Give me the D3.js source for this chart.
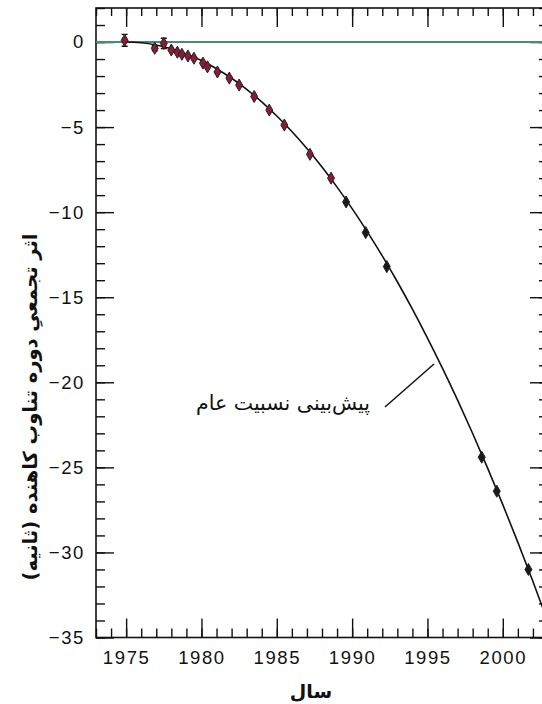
<!DOCTYPE html>
<html><head><meta charset="utf-8">
<script src="https://cdn.jsdelivr.net/npm/d3@7"></script>
<style>
html,body{margin:0;padding:0;background:#fff;}
svg{display:block;}
</style></head>
<body>
<script>
// ---- data ----
const obsYears  = [1974.9, 1976.9, 1977.5, 1978.0, 1978.4, 1978.7, 1979.1, 1979.5, 1980.1, 1980.4, 1981.06, 1981.85, 1982.5, 1983.5, 1984.5, 1985.5, 1987.2, 1988.6, 1989.6, 1990.9, 1992.3, 1998.6, 1999.6, 2001.7];
const obsValues = [0.1, -0.37, -0.08, -0.47, -0.6, -0.72, -0.82, -0.95, -1.24, -1.46, -1.76, -2.12, -2.53, -3.2, -4.0, -4.88, -6.6, -8.0, -9.4, -11.2, -13.2, -24.4, -26.4, -31.0];
const obsErrors = [0.35, 0.15, 0.3, 0.1, 0.1, 0.1, 0.1, 0.1, 0.1, 0.1, 0.1, 0.1, 0.1, 0.1, 0.1, 0.1, 0.1, 0.1, 0.1, 0.1, 0.1, 0.1, 0.1, 0.1];

const grYears  = [1974.8, 1975, 1976, 1977, 1978, 1979, 1980, 1981, 1982, 1983, 1984, 1985, 1986, 1987, 1988, 1989, 1990, 1991, 1992, 1993, 1994, 1995, 1996, 1997, 1998, 1999, 2000, 2001, 2002, 2003, 2004];
const grValues = [0.0, 0.0, -0.04, -0.17, -0.39, -0.70, -1.09, -1.57, -2.13, -2.78, -3.52, -4.35, -5.26, -6.26, -7.35, -8.53, -9.79, -11.14, -12.57, -14.09, -15.70, -17.40, -19.18, -21.05, -23.01, -25.06, -27.19, -29.41, -31.71, -34.10, -36.6];

const xMajorTicks = [1975, 1980, 1985, 1990, 1995, 2000];
const yMajorTicks = [0, -5, -10, -15, -20, -25, -30, -35];
const xDomain = [1973, 2003];
const yDomain = [2, -35];

const xTitle = "سال";
const yTitle = "اثر تجمعیِ دوره تناوب کاهنده (ثانیه)";
const annotationText = "پیش‌بینی نسبیت عام";

// ---- drawing ----
const W = 542, H = 704;
const L = 96, T = 8, R = 548, B = 637.5;
const svg = d3.select("body").append("svg").attr("width", W).attr("height", H);

const x = d3.scaleLinear().domain(xDomain).range([L, R]);
const y = d3.scaleLinear().domain(yDomain).range([T, B]);

const xMinor = d3.range(xDomain[0], xDomain[1] + 1, 1);
const yMinor = d3.range(-35, 3, 1);

const numFont = "'Liberation Sans', Arial, sans-serif";
const faFont = "'DejaVu Sans', sans-serif";

svg.append("clipPath").attr("id", "clip").append("rect")
  .attr("x", L).attr("y", T).attr("width", R - L).attr("height", B - T);

function styleAxis(g) {
  g.select(".domain").remove();
  g.selectAll(".tick line").attr("stroke", "#111").attr("stroke-width", 1.4);
  g.selectAll("text").attr("fill", "#111").attr("font-family", numFont)
    .attr("font-size", 18.5).attr("letter-spacing", "1.6px");
}

// minor ticks
svg.append("g").attr("transform", `translate(0,${B})`)
  .call(d3.axisBottom(x).tickValues(xMinor).tickSize(-9).tickFormat("")).call(styleAxis);
svg.append("g").attr("transform", `translate(0,${T})`)
  .call(d3.axisTop(x).tickValues(xMinor).tickSize(-8).tickFormat("")).call(styleAxis);
svg.append("g").attr("transform", `translate(${L},0)`)
  .call(d3.axisLeft(y).tickValues(yMinor).tickSize(-9).tickFormat("")).call(styleAxis);
svg.append("g").attr("transform", `translate(${R},0)`)
  .call(d3.axisRight(y).tickValues(yMinor).tickSize(-9).tickFormat("")).call(styleAxis);

// major ticks
svg.append("g").attr("transform", `translate(0,${B})`)
  .call(d3.axisBottom(x).tickValues(xMajorTicks).tickSize(-19).tickPadding(13).tickFormat(d3.format("d"))).call(styleAxis);
svg.append("g").attr("transform", `translate(0,${T})`)
  .call(d3.axisTop(x).tickValues(xMajorTicks).tickSize(-19).tickFormat("")).call(styleAxis);
svg.append("g").attr("transform", `translate(${L},0)`)
  .call(d3.axisLeft(y).tickValues(yMajorTicks).tickSize(-18).tickPadding(11)
    .tickFormat(d => d === 0 ? "0" : "\u2212" + Math.abs(d))).call(styleAxis);
svg.append("g").attr("transform", `translate(${R},0)`)
  .call(d3.axisRight(y).tickValues(yMajorTicks).tickSize(-18).tickFormat("")).call(styleAxis);

// frame
svg.append("rect").attr("x", L).attr("y", T).attr("width", R - L).attr("height", B - T)
  .attr("fill", "none").attr("stroke", "#111").attr("stroke-width", 1.6);

const plot = svg.append("g").attr("clip-path", "url(#clip)");

// zero line
plot.append("line").attr("x1", L).attr("x2", R).attr("y1", y(0)).attr("y2", y(0))
  .attr("stroke", "#4a8a78").attr("stroke-width", 2);

// GR curve
const grData = grYears.map((t, i) => [t, grValues[i]]);
plot.append("path").datum(grData)
  .attr("d", d3.line().x(d => x(d[0])).y(d => y(d[1])).curve(d3.curveMonotoneX))
  .attr("fill", "none").attr("stroke", "#111").attr("stroke-width", 1.6);

// observations
const obs = obsYears.map((t, i) => ({t, v: obsValues[i], e: obsErrors[i]}));
const og = plot.append("g");
const withErr = obs.filter(d => d.e > 0.12);
og.selectAll("line.err").data(withErr).join("line")
  .attr("x1", d => x(d.t)).attr("x2", d => x(d.t))
  .attr("y1", d => y(d.v + d.e)).attr("y2", d => y(d.v - d.e))
  .attr("stroke", "#111").attr("stroke-width", 1.6);
og.selectAll("line.capT").data(withErr).join("line")
  .attr("x1", d => x(d.t) - 3).attr("x2", d => x(d.t) + 3)
  .attr("y1", d => y(d.v + d.e)).attr("y2", d => y(d.v + d.e))
  .attr("stroke", "#111").attr("stroke-width", 1.4);
og.selectAll("line.capB").data(withErr).join("line")
  .attr("x1", d => x(d.t) - 3).attr("x2", d => x(d.t) + 3)
  .attr("y1", d => y(d.v - d.e)).attr("y2", d => y(d.v - d.e))
  .attr("stroke", "#111").attr("stroke-width", 1.4);
og.selectAll("path.pt").data(obs).join("path")
  .attr("d", d3.symbol().type(d3.symbolDiamond).size(42))
  .attr("transform", d => `translate(${x(d.t)},${y(d.v)})`)
  .attr("fill", d => d.t < 1989 ? "#8a1a36" : "#1a1a1a")
  .attr("stroke", "#222").attr("stroke-width", 1);

// annotation
svg.append("text").attr("x", 370).attr("y", 410)
  .attr("font-family", faFont).attr("font-size", 20.5)
  .attr("fill", "#111").attr("direction", "rtl").attr("text-anchor", "start")
  .text(annotationText);
svg.append("line").attr("x1", 385).attr("y1", 407).attr("x2", 434).attr("y2", 364)
  .attr("stroke", "#111").attr("stroke-width", 1.5);

// titles
svg.append("text").attr("x", 311).attr("y", 698).attr("text-anchor", "middle")
  .attr("font-family", faFont).attr("font-weight", "bold").attr("font-size", 19)
  .attr("fill", "#111").text(xTitle);
svg.append("text").attr("transform", `translate(37,407) rotate(-90)`)
  .attr("text-anchor", "middle").attr("font-family", faFont).attr("font-weight", "bold")
  .attr("font-size", 19.5).attr("fill", "#111").attr("direction", "rtl").text(yTitle);
</script>
</body></html>
